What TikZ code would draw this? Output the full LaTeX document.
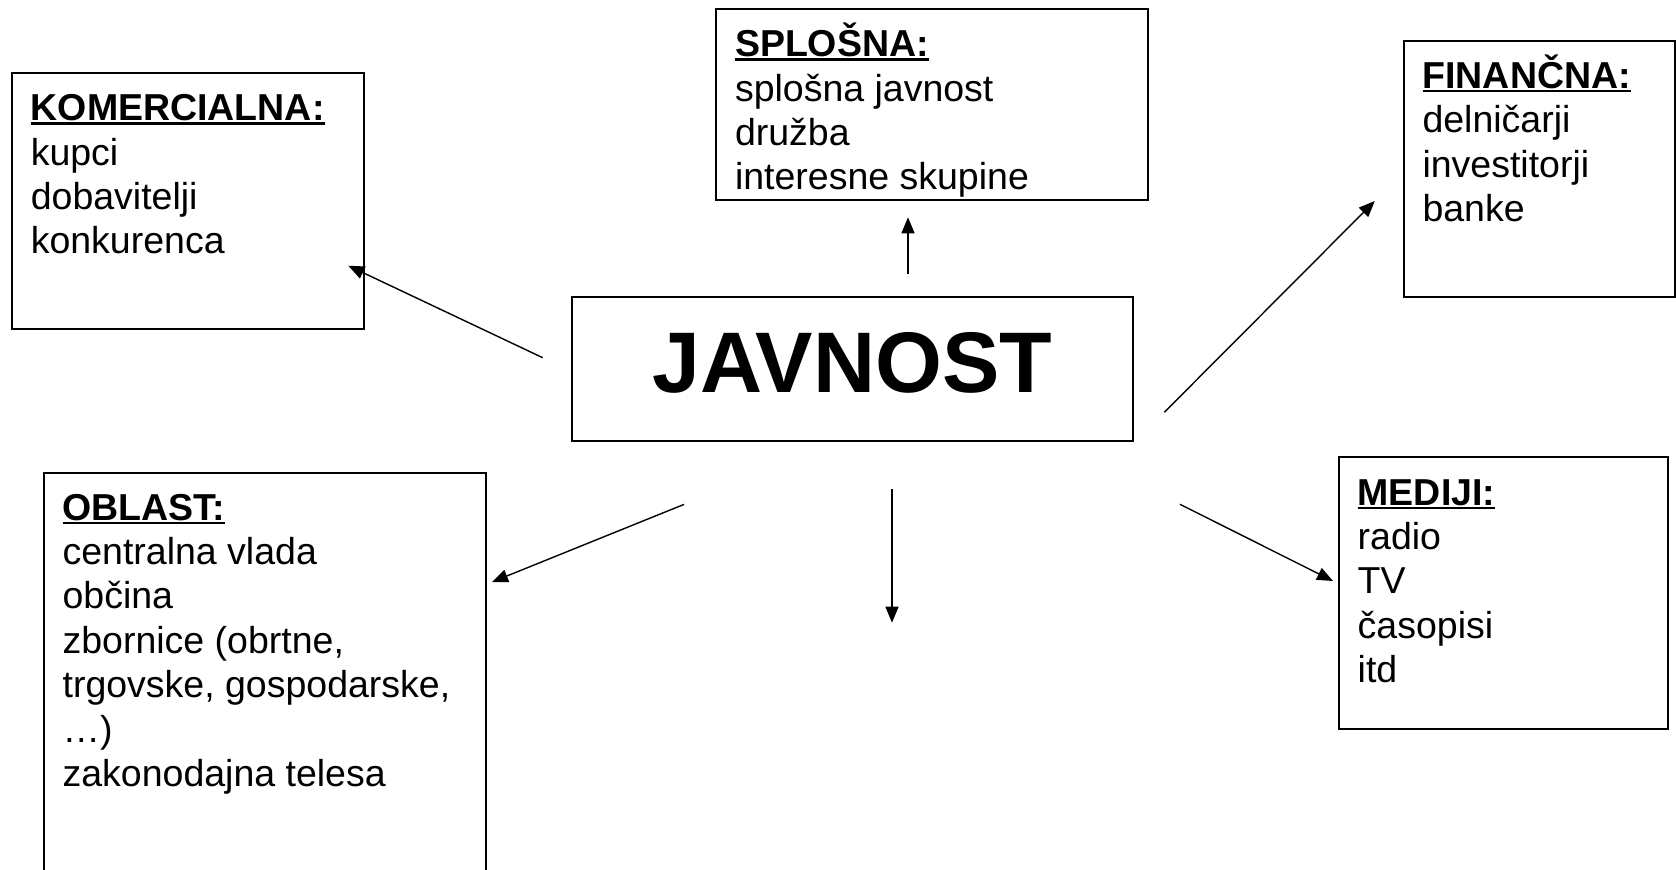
\documentclass[tikz,border=0pt]{standalone}
\usepackage{fontspec}
\setmainfont{Liberation Sans}
\usetikzlibrary{arrows.meta}
\newcommand{\ulhead}[1]{\setbox0=\hbox{\bfseries #1}\rlap{\rule[-4pt]{\wd0}{2.3pt}}\box0}
\newcommand{\fstrut}{\rule{0pt}{36pt}}
\begin{document}
\begin{tikzpicture}[x=1pt,y=-1pt,
  box/.style={draw, line width=2pt, inner sep=0pt, outer sep=0pt, anchor=north west},
  txt/.style={anchor=north west, inner sep=0pt, outer sep=0pt, align=left,
    font=\fontsize{37.5pt}{44.4pt}\selectfont},
  conn/.style={line width=1.4pt, -{Triangle[length=16pt,width=13pt]}}]
\useasboundingbox (0,0) rectangle (1676,870);

% boxes
\node[box, minimum width=352.5pt, minimum height=256.3pt] (kom) at (11.5,72.7) {};
\node[box, minimum width=432pt, minimum height=191pt] (spl) at (715.7,9) {};
\node[box, minimum width=271.5pt, minimum height=256pt] (fin) at (1403.5,40.7) {};
\node[box, minimum width=561pt, minimum height=143.5pt] (jav) at (571.5,297) {};
\node[box, minimum width=441.7pt, minimum height=420pt] (obl) at (43.8,472.7) {};
\node[box, minimum width=329pt, minimum height=272pt] (med) at (1338.8,456.5) {};

% texts
\node[txt] (komt) at (30.8,84.7) {\fstrut\ulhead{KOMERCIALNA:}\\kupci\\dobavitelji\\konkurenca};
\node[txt] (splt) at (735,20.7) {\fstrut\ulhead{SPLOŠNA:}\\splošna javnost\\družba\\interesne skupine};
\node[txt] (fint) at (1422.5,52.3) {\fstrut\ulhead{FINANČNA:}\\delničarji\\investitorji\\banke};
\node[txt] (oblt) at (62.6,484) {\fstrut\ulhead{OBLAST:}\\centralna vlada\\občina\\zbornice (obrtne,\\trgovske, gospodarske,\\…)\\zakonodajna telesa};
\node[txt] (medt) at (1357.7,469) {\fstrut\ulhead{MEDIJI:}\\radio\\TV\\časopisi\\itd};
\node[anchor=base, inner sep=0pt, font=\fontsize{86pt}{100pt}\selectfont\bfseries] (javt) at (852.3,392.7) {JAVNOST};

% connector ends
\coordinate (k1) at (542.7,357.7);
\coordinate (k2) at (348.3,265.7);
\coordinate (s1) at (908,274);
\coordinate (s2) at (908,217.3);
\coordinate (f1) at (1164.3,412.3);
\coordinate (f2) at (1374.8,201);
\coordinate (o1) at (684,504.4);
\coordinate (o2) at (492,582);
\coordinate (d1) at (892,488.7);
\coordinate (d2) at (892,622.7);
\coordinate (m1) at (1180,504.3);
\coordinate (m2) at (1333,581);

\draw[conn] (k1) -- (k2);
\draw[conn] (s1) -- (s2);
\draw[conn] (f1) -- (f2);
\draw[conn] (o1) -- (o2);
\draw[conn] (d1) -- (d2);
\draw[conn] (m1) -- (m2);
\end{tikzpicture}
\end{document}
